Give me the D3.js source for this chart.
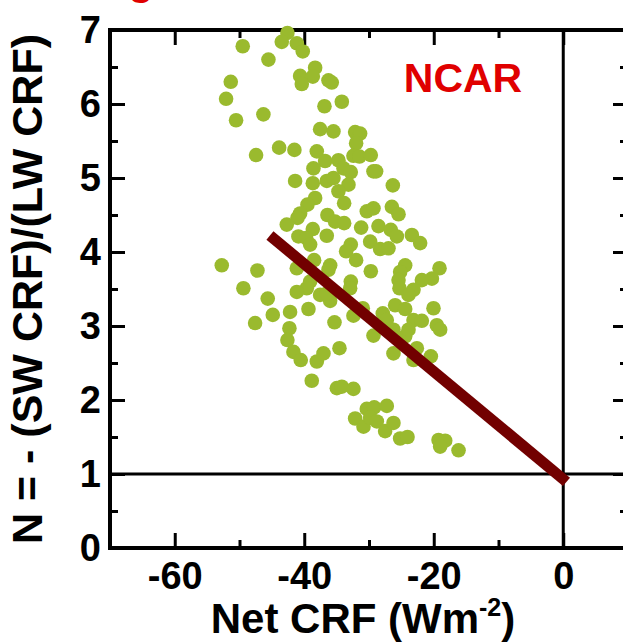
<!DOCTYPE html>
<html>
<head>
<meta charset="utf-8">
<script src="https://cdn.jsdelivr.net/npm/d3@7"></script>
<style>
  html, body { margin: 0; padding: 0; background: #fff; }
  svg { display: block; }
  text { font-family: "Liberation Sans", Arial, Helvetica, sans-serif; font-weight: bold; }
</style>
</head>
<body>
<svg id="chart" width="623" height="643"></svg>
<script>
// Net cloud radiative forcing (W m-2) for each sample
const netCRF = [
  -49.50, -45.53, -42.60, -43.47, -41.15, -40.23, -38.32, -40.64, -38.68, -40.38,
  -36.26, -35.75, -51.35, -52.07, -50.53, -46.31, -36.88, -34.20, -37.55, -35.49,
  -32.14, -31.37, -31.99, -32.40, -31.47, -29.72, -38.06, -36.78, -34.72, -38.58,
  -33.94, -32.81, -47.44, -43.88, -41.52, -29.31, -28.90, -41.41, -38.68, -36.52,
  -35.49, -33.17, -34.72, -33.84, -26.32, -38.32, -39.51, -40.64, -41.05, -42.70,
  -36.42, -35.23, -33.84, -30.34, -29.31, -26.47, -25.44, -31.21, -28.54, -26.63,
  -25.70, -23.38, -22.10, -40.90, -38.68, -39.71, -39.09, -36.52, -32.81, -33.53,
  -31.99, -29.82, -28.28, -26.99, -52.74, -47.23, -38.48, -41.15, -36.00, -36.26,
  -29.72, -24.41, -25.19, -25.44, -19.11, -20.29, -21.84, -25.29, -23.13, -23.90,
  -32.81, -32.91, -39.09, -39.61, -41.15, -49.40, -45.64, -44.86, -47.59, -42.19,
  -39.35, -37.55, -36.00, -36.52, -35.33, -32.40, -30.96, -27.87, -27.25, -25.96,
  -24.41, -20.04, -23.13, -21.84, -19.52, -19.01, -29.31, -26.22, -24.41, -23.90,
  -26.22, -22.61, -23.13, -20.45, -42.29, -42.60, -41.67, -40.54, -38.06, -37.03,
  -34.56, -38.84, -34.97, -34.20, -32.40, -30.34, -29.20, -27.25, -32.14, -30.85,
  -29.82, -28.79, -27.51, -26.22, -25.19, -24.05, -19.26, -18.23, -19.01, -16.17
];
// N = -(SW CRF)/(LW CRF) for the same samples
const ratioN = [
  6.78, 6.60, 6.96, 6.84, 6.82, 6.71, 6.49, 6.38, 6.37, 6.27,
  6.32, 6.29, 6.30, 6.07, 5.78, 5.86, 5.97, 6.03, 5.66, 5.63,
  5.62, 5.60, 5.47, 5.30, 5.29, 5.31, 5.36, 5.23, 5.24, 5.13,
  5.13, 5.08, 5.31, 5.41, 5.38, 5.09, 5.09, 4.96, 4.93, 4.96,
  5.00, 4.91, 4.82, 4.66, 4.90, 4.73, 4.64, 4.52, 4.46, 4.37,
  4.50, 4.41, 4.39, 4.55, 4.59, 4.61, 4.51, 4.33, 4.35, 4.30,
  4.21, 4.23, 4.12, 4.21, 4.31, 4.19, 4.10, 4.22, 4.10, 4.01,
  3.89, 4.14, 4.04, 4.05, 3.82, 3.75, 3.89, 3.78, 3.82, 3.76,
  3.74, 3.82, 3.73, 3.62, 3.78, 3.64, 3.62, 3.51, 3.49, 3.42,
  3.60, 3.51, 3.60, 3.51, 3.46, 3.51, 3.37, 3.15, 3.04, 3.19,
  3.23, 3.42, 3.34, 3.44, 3.05, 3.14, 3.24, 3.17, 3.08, 3.28,
  3.23, 3.24, 3.08, 3.07, 3.01, 2.95, 2.87, 2.95, 2.86, 2.95,
  2.63, 2.70, 2.54, 2.59, 2.97, 2.81, 2.65, 2.54, 2.52, 2.63,
  2.70, 2.26, 2.16, 2.18, 2.15, 1.88, 1.90, 1.92, 1.75, 1.64,
  1.76, 1.71, 1.58, 1.69, 1.48, 1.50, 1.46, 1.45, 1.37, 1.32
];

// Least-squares fit drawn over the scatter
const fitIntercept = 0.93;
const fitSlope = -0.0727;
const fitRange = [-45.3, 0.5];

const xDomain = [-70, 10];
const yDomain = [0, 7];
const xMajor = [-60, -40, -20, 0];
const xMinor = [-50, -30, -10];
const yMajor = [0, 1, 2, 3, 4, 5, 6, 7];
const yMinor = [0.5, 1.5, 2.5, 3.5, 4.5, 5.5, 6.5];

const margin = { left: 110, top: 30, right: 623 - 628, bottom: 643 - 548 };
const W = 623, H = 643;
const svg = d3.select("#chart");

const x = d3.scaleLinear().domain(xDomain).range([margin.left, W - margin.right]);
const y = d3.scaleLinear().domain(yDomain).range([H - margin.bottom, margin.top]);

const fmt = d => String(d);
const styleAxis = g => {
  g.select(".domain").remove();
  g.selectAll(".tick line").attr("stroke", "#000").attr("stroke-width", 3);
  g.selectAll(".tick text").attr("fill", "#000");
};

// zero-net-forcing and N = 1 reference lines
svg.append("line")
  .attr("x1", x(0)).attr("x2", x(0))
  .attr("y1", y(7)).attr("y2", y(0))
  .attr("stroke", "#000").attr("stroke-width", 3);
svg.append("line")
  .attr("x1", x(-70)).attr("x2", x(10))
  .attr("y1", y(1)).attr("y2", y(1))
  .attr("stroke", "#000").attr("stroke-width", 3);

// bottom axis (labelled) + minor ticks
svg.append("g")
  .attr("transform", `translate(0,${y(0)})`)
  .call(d3.axisBottom(x).tickValues(xMajor).tickFormat(fmt).tickSizeInner(-15).tickSizeOuter(0).tickPadding(14))
  .call(styleAxis)
  .call(g => g.selectAll(".tick text").attr("font-size", 38).attr("font-family", "Liberation Sans, Arial, sans-serif").attr("font-weight", "bold"));
svg.append("g")
  .attr("transform", `translate(0,${y(0)})`)
  .call(d3.axisBottom(x).tickValues(xMinor).tickFormat("").tickSizeInner(-8).tickSizeOuter(0))
  .call(styleAxis);

// top axis ticks
svg.append("g")
  .attr("transform", `translate(0,${y(7)})`)
  .call(d3.axisTop(x).tickValues(xMajor).tickFormat("").tickSizeInner(-15).tickSizeOuter(0))
  .call(styleAxis);
svg.append("g")
  .attr("transform", `translate(0,${y(7)})`)
  .call(d3.axisTop(x).tickValues(xMinor).tickFormat("").tickSizeInner(-8).tickSizeOuter(0))
  .call(styleAxis);

// left axis (labelled) + minor ticks
svg.append("g")
  .attr("transform", `translate(${x(-70)},0)`)
  .call(d3.axisLeft(y).tickValues(yMajor).tickFormat(fmt).tickSizeInner(-15).tickSizeOuter(0).tickPadding(9))
  .call(styleAxis)
  .call(g => g.selectAll(".tick text").attr("font-size", 38).attr("font-family", "Liberation Sans, Arial, sans-serif").attr("font-weight", "bold"));
svg.append("g")
  .attr("transform", `translate(${x(-70)},0)`)
  .call(d3.axisLeft(y).tickValues(yMinor).tickFormat("").tickSizeInner(-8).tickSizeOuter(0))
  .call(styleAxis);

// right axis ticks
svg.append("g")
  .attr("transform", `translate(${x(10)},0)`)
  .call(d3.axisRight(y).tickValues(yMajor).tickFormat("").tickSizeInner(-15).tickSizeOuter(0))
  .call(styleAxis);
svg.append("g")
  .attr("transform", `translate(${x(10)},0)`)
  .call(d3.axisRight(y).tickValues(yMinor).tickFormat("").tickSizeInner(-8).tickSizeOuter(0))
  .call(styleAxis);

// plot frame
svg.append("rect")
  .attr("x", x(-70)).attr("y", y(7))
  .attr("width", x(10) - x(-70)).attr("height", y(0) - y(7))
  .attr("fill", "none").attr("stroke", "#000").attr("stroke-width", 4);

// scatter
const pts = netCRF.map((v, i) => ({ x: v, n: ratioN[i] }));
svg.append("g")
  .selectAll("circle")
  .data(pts)
  .join("circle")
  .attr("cx", d => x(d.x))
  .attr("cy", d => y(d.n))
  .attr("r", 7.3)
  .attr("fill", "#9aba2e");

// regression line
svg.append("line")
  .attr("x1", x(fitRange[0])).attr("y1", y(fitIntercept + fitSlope * fitRange[0]))
  .attr("x2", x(fitRange[1])).attr("y2", y(fitIntercept + fitSlope * fitRange[1]))
  .attr("stroke", "#720000").attr("stroke-width", 11).attr("stroke-linecap", "butt");

// model label
svg.append("text")
  .attr("x", 463).attr("y", 92)
  .attr("text-anchor", "middle")
  .attr("font-size", 41)
  .attr("fill", "#e00000")
  .text("NCAR");

// panel heading, running above the top edge
svg.append("text")
  .attr("x", 141).attr("y", -5)
  .attr("text-anchor", "middle")
  .attr("font-size", 41)
  .attr("fill", "#e00000")
  .text("g");

// axis titles
const xt = svg.append("text")
  .attr("x", 363).attr("y", 633)
  .attr("text-anchor", "middle")
  .attr("font-size", 42)
  .attr("fill", "#000");
xt.append("tspan").text("Net CRF (Wm");
xt.append("tspan").attr("font-size", 25).attr("dy", -17).text("-2");
xt.append("tspan").attr("dy", 17).text(")");

svg.append("text")
  .attr("transform", `translate(42,289) rotate(-90)`)
  .attr("text-anchor", "middle")
  .attr("font-size", 43)
  .attr("fill", "#000")
  .text("N = - (SW CRF)/(LW CRF)");
</script>
</body>
</html>
